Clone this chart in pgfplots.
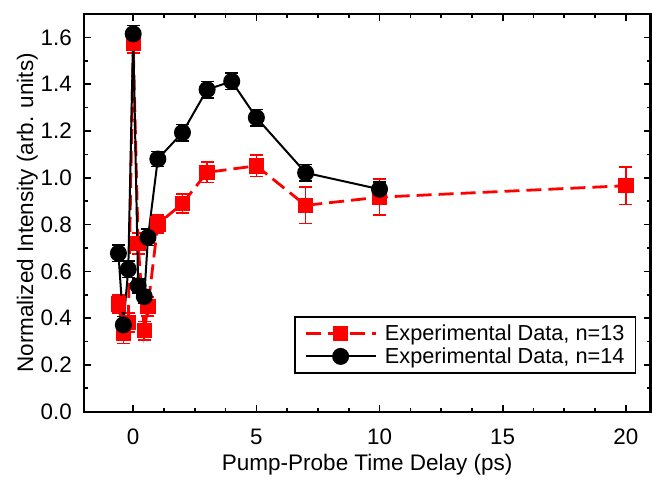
\documentclass[border=0pt]{standalone}
\usepackage{pgfplots}
\pgfplotsset{compat=1.18}
\usepackage{pgfplotstable}
\usepackage{fontspec}
\setmainfont{Liberation Sans}
\pgfplotstableread{
x y e
-0.6 0.461 0.039
-0.4 0.336 0.045
-0.2 0.381 0.040
0.0 1.573 0.040
0.2 0.720 0.045
0.45 0.346 0.040
0.6 0.449 0.040
1 0.802 0.039
2 0.890 0.040
3 1.023 0.043
5 1.051 0.045
7 0.882 0.078
10 0.917 0.077
20 0.966 0.080
}\redtab
\pgfplotstableread{
x y e
-0.6 0.677 0.035
-0.4 0.371 0.035
-0.2 0.609 0.035
0.0 1.615 0.035
0.2 0.538 0.030
0.45 0.492 0.030
0.6 0.745 0.035
1 1.080 0.032
2 1.193 0.035
3 1.377 0.035
4 1.412 0.035
5 1.257 0.035
7 1.021 0.035
10 0.951 0.030
}\blacktab
\begin{document}
\begin{tikzpicture}
\begin{axis}[
  scale only axis, width=567bp, height=398bp,
  xmin=-2, xmax=21, ymin=0, ymax=1.7,
  xtick={0,5,10,15,20},
  ytick={0,0.2,0.4,0.6,0.8,1.0,1.2,1.4,1.6},
  minor x tick num=3, minor y tick num=1,
  tick align=inside,
  major tick length=7bp, minor tick length=4bp,
  every tick/.style={black, line width=1.6bp},
  axis line style={line width=2.2bp},
  /pgf/number format/assume math mode=true,
  every tick label/.append style={font=\fontsize{22.5}{26}\selectfont},
  yticklabel style={/pgf/number format/fixed, /pgf/number format/fixed zerofill, /pgf/number format/precision=1, inner sep=0pt, xshift=-12bp},
  xticklabel style={inner sep=0pt, yshift=-17bp},
  xlabel={Pump-Probe Time Delay (ps)},
  ylabel={Normalized Intensity (arb. units)},
  every axis x label/.style={at={(axis description cs:0.5,-0.133)}, anchor=center, font=\fontsize{22.6}{27}\selectfont},
  every axis y label/.style={at={(axis description cs:-0.1,0.5)}, anchor=center, rotate=90, font=\fontsize{22.6}{27}\selectfont},
  legend cell align=left,
  legend image code/.code={\draw[mark repeat=2,mark phase=2] plot coordinates {(0bp,0bp) (35bp,0bp) (70bp,0bp)};},
  legend style={at={(0.975,0.095)}, anchor=south east, draw=black, line width=1.8bp,
    font=\fontsize{21.8}{25}\selectfont,
    inner xsep=9bp, inner ysep=6bp, row sep=2bp,
    /tikz/every odd column/.append style={column sep=6bp}},
]
\coordinate (ll) at (rel axis cs:0,0);
\coordinate (ur) at (rel axis cs:1,1);
\addplot[red, line width=2.8bp, dash pattern=on 15bp off 7bp, mark=square*, mark size=6.3bp, mark options={solid},
  error bars/.cd, y dir=both, y explicit,
  error bar style={solid, line width=1.6bp, red},
  error mark options={rotate=90, mark size=6.5bp, line width=1.6bp, red, solid}]
  table[x=x, y=y, y error=e] {\redtab};
\addlegendentry{Experimental Data, n=13}
\addplot[black, line width=2bp, mark=*, mark size=7.5bp,
  error bars/.cd, y dir=both, y explicit,
  error bar style={line width=1.6bp, black},
  error mark options={rotate=90, mark size=6.5bp, line width=1.6bp, black}]
  table[x=x, y=y, y error=e] {\blacktab};
\addlegendentry{Experimental Data, n=14}
\end{axis}
\path (ll) ++(-84bp,-65bp);
\path (ur) ++(1.5bp,14bp);
\end{tikzpicture}
\end{document}
